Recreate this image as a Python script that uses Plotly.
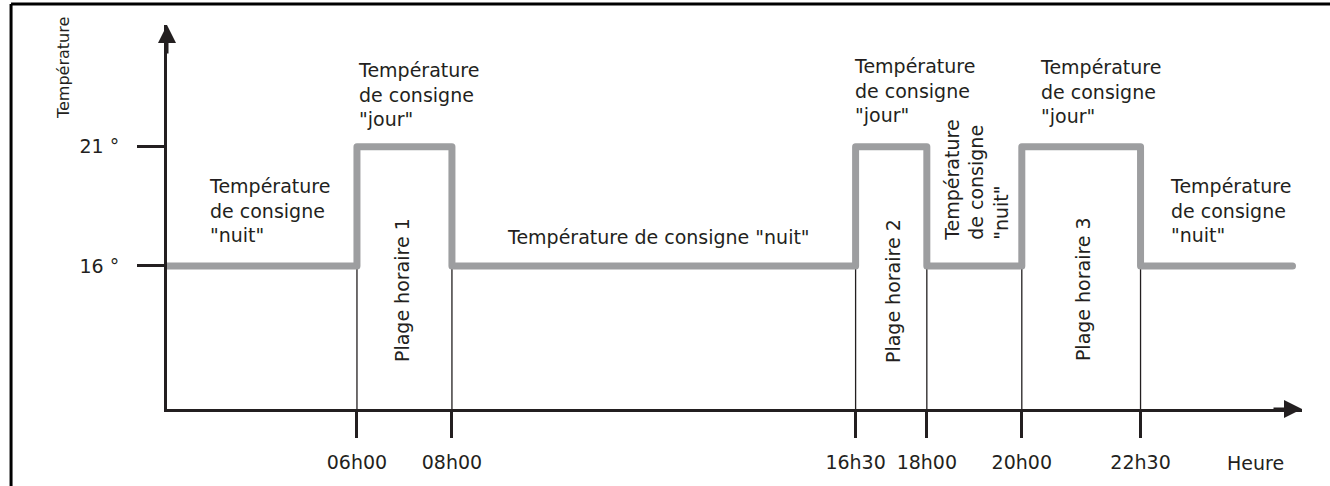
import plotly.graph_objects as go

# ---- data ----
change_times = [2, 6, 8, 16.5, 18, 20, 22.5, 25.7]          # hours (start of axis .. end of line)
setpoints = [16, 21, 16, 21, 16, 21, 16]                  # °C per segment
tick_hours = [6, 8, 16.5, 18, 20, 22.5]
tick_labels = ["06h00", "08h00", "16h30", "18h00", "20h00", "22h30"]
temp_ticks = [16, 21]
temp_labels = ["16 °", "21 °"]
night_level = 16
axis_bottom = 10

INK = "#231f20"
GREY = "#9d9ea0"
FONT = "DejaVu Sans"
FS = 19

fig = go.Figure()

# thin guide lines from the axis up to the night level at each change
gx, gy = [], []
for t in tick_hours:
    gx += [t, t, None]
    gy += [axis_bottom, night_level, None]
fig.add_trace(go.Scatter(x=gx, y=gy, mode="lines",
                         line=dict(color=INK, width=1.3),
                         hoverinfo="skip", showlegend=False))

# setpoint step line
fig.add_trace(go.Scatter(x=change_times, y=setpoints + [setpoints[-1]],
                         mode="lines", line=dict(color=GREY, width=7, shape="hv"),
                         hoverinfo="skip", showlegend=False))

ann = []
def txt(x, y, s, xanchor="left", yanchor="middle", angle=0, align="left", size=FS,
        xref="x", yref="y"):
    ann.append(dict(x=x, y=y, xref=xref, yref=yref, text=s, showarrow=False,
                    xanchor=xanchor, yanchor=yanchor, textangle=angle, align=align,
                    font=dict(family=FONT, size=size, color=INK)))

txt(2.84, 18.34, "Température<br>de consigne<br>\"nuit\"")
txt(5.98, 23.17, "Température<br>de consigne<br>\"jour\"")
txt(12.34, 17.21, "Température de consigne \"nuit\"", xanchor="center")
txt(16.42, 23.37, "Température<br>de consigne<br>\"jour\"")
txt(20.34, 23.33, "Température<br>de consigne<br>\"jour\"")
txt(23.08, 18.34, "Température<br>de consigne<br>\"nuit\"")
txt(19.03, 19.6, "Température<br>de consigne<br>\"nuit\"", xanchor="center", angle=-90)
txt(6.95, 14.99, "Plage horaire 1", xanchor="center", angle=-90)
txt(17.29, 14.95, "Plage horaire 2", xanchor="center", angle=-90)
txt(21.29, 15.03, "Plage horaire 3", xanchor="center", angle=-90)
txt(24.93, -0.1406, "Heure", xanchor="center", yref="paper")
txt(-0.0916, 0.888, "Température", xanchor="center", angle=-90, size=16,
    xref="paper", yref="paper")

# axis arrowheads
ann.append(dict(x=25.9, y=axis_bottom, xref="x", yref="y", ax=-30, ay=0, text="",
                showarrow=True, arrowhead=2, arrowsize=1.2, arrowwidth=3,
                arrowcolor=INK, standoff=0))
ann.append(dict(x=2, y=26.1, xref="x", yref="y", ax=0, ay=30, text="",
                showarrow=True, arrowhead=2, arrowsize=1.2, arrowwidth=3,
                arrowcolor=INK, standoff=0))

# frame (top and left border)
shapes = [
    dict(type="line", xref="paper", yref="paper", x0=-0.1374, x1=1.03, y0=1.0547, y1=1.0547,
         line=dict(color="black", width=3)),
    dict(type="line", xref="paper", yref="paper", x0=-0.1374, x1=-0.1374, y0=1.0547, y1=-0.21,
         line=dict(color="black", width=3)),
]

fig.update_layout(
    width=1330, height=486,
    margin=dict(l=167, r=28, t=25, b=77),
    paper_bgcolor="white", plot_bgcolor="white",
    annotations=ann, shapes=shapes,
    xaxis=dict(range=[2, 25.9], showgrid=False, zeroline=False,
               showline=True, linewidth=3, linecolor=INK,
               tickvals=tick_hours, ticktext=tick_labels,
               ticks="outside", ticklen=26, tickwidth=3, tickcolor=INK,
               ticklabelstandoff=8,
               tickfont=dict(family=FONT, size=FS, color=INK)),
    yaxis=dict(range=[axis_bottom, 26.1], showgrid=False, zeroline=False,
               showline=True, linewidth=3, linecolor=INK,
               tickvals=temp_ticks, ticktext=temp_labels,
               ticks="outside", ticklen=27, tickwidth=2.5, tickcolor=INK,
               ticklabelstandoff=14,
               tickfont=dict(family=FONT, size=FS, color=INK)),
    showlegend=False,
)

post = """
document.body.style.margin='0';
document.querySelectorAll('.scatterlayer path.js-line').forEach(function(p){
  p.style.strokeLinejoin='round'; p.style.strokeLinecap='round';
});
"""
fig.write_html("out.html", config={"displayModeBar": False}, post_script=post)
